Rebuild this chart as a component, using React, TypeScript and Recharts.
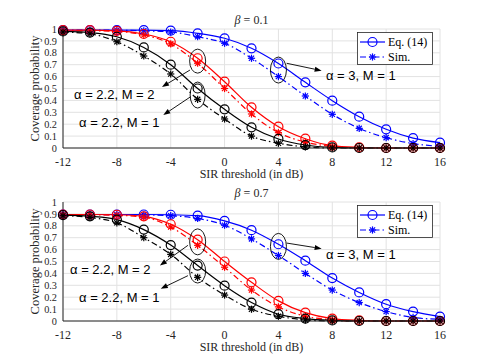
import React from "react";
import {
  LineChart,
  Line,
  XAxis,
  YAxis,
  CartesianGrid,
  Legend,
  ReferenceDot,
  ReferenceLine,
} from "recharts";

// SIR threshold (dB) for every marker
const SIR_DB = [-12, -10, -8, -6, -4, -2, 0, 2, 4, 6, 8, 10, 12, 14, 16];

// beta = 0.1
const EQ_A3_M1_B01 = [0.99, 0.99, 0.99, 0.99, 0.986, 0.964, 0.922, 0.838, 0.71, 0.552, 0.398, 0.263, 0.157, 0.083, 0.045];
const SIM_A3_M1_B01 = [0.99, 0.99, 0.99, 0.985, 0.975, 0.935, 0.88, 0.754, 0.6, 0.437, 0.283, 0.165, 0.087, 0.037, 0.014];
const EQ_A22_M2_B01 = [0.99, 0.99, 0.985, 0.958, 0.893, 0.754, 0.557, 0.342, 0.179, 0.078, 0.02, 0.005, 0, 0, 0];
const SIM_A22_M2_B01 = [0.985, 0.985, 0.98, 0.95, 0.875, 0.712, 0.5, 0.286, 0.129, 0.05, 0.012, 0, 0, 0, 0];
const EQ_A22_M1_B01 = [0.98, 0.97, 0.935, 0.845, 0.7, 0.5, 0.325, 0.174, 0.076, 0.025, 0.005, 0, 0, 0, 0];
const SIM_A22_M1_B01 = [0.975, 0.96, 0.893, 0.773, 0.622, 0.409, 0.244, 0.1, 0.04, 0.01, 0, 0, 0, 0, 0];

// beta = 0.7
const EQ_A3_M1_B07 = [0.895, 0.895, 0.895, 0.895, 0.893, 0.885, 0.841, 0.763, 0.645, 0.507, 0.361, 0.24, 0.141, 0.079, 0.037];
const SIM_A3_M1_B07 = [0.895, 0.895, 0.894, 0.892, 0.885, 0.862, 0.805, 0.69, 0.55, 0.4, 0.26, 0.155, 0.079, 0.03, 0.014];
const EQ_A22_M2_B07 = [0.895, 0.895, 0.893, 0.88, 0.813, 0.683, 0.5, 0.325, 0.169, 0.07, 0.02, 0.005, 0, 0, 0];
const SIM_A22_M2_B07 = [0.892, 0.892, 0.888, 0.872, 0.79, 0.636, 0.452, 0.26, 0.119, 0.04, 0.01, 0, 0, 0, 0];
const EQ_A22_M1_B07 = [0.89, 0.88, 0.852, 0.768, 0.638, 0.466, 0.297, 0.155, 0.057, 0.02, 0.005, 0, 0, 0, 0];
const SIM_A22_M1_B07 = [0.885, 0.87, 0.825, 0.7, 0.56, 0.367, 0.218, 0.099, 0.04, 0.01, 0, 0, 0, 0, 0];

const X_TICKS = [-12, -8, -4, 0, 4, 8, 12, 16];
const Y_TICKS = [0, 0.1, 0.2, 0.3, 0.4, 0.5, 0.6, 0.7, 0.8, 0.9, 1];

const LEGEND_ITEMS = [
  { label: "Eq. (14)", kind: "eq" },
  { label: "Sim.", kind: "sim" },
];

const AXIS = "#262626";
const GRID = "#e2e2e2";
const SERIF = "'Liberation Serif', 'Times New Roman', serif";
const SANS = "'Liberation Sans', Arial, sans-serif";
const DASH_DOT = "6 3 1.5 3";

// plot box inside each 485x182 panel
const M_TOP = 29;
const M_LEFT = 33;
const Y_AXIS_W = 30;
const PLOT_H = 119;

const SERIES = [
  { key: "eqA3", color: "#0000ff", kind: "eq" },
  { key: "simA3", color: "#0000ff", kind: "sim" },
  { key: "eqA22M2", color: "#ff0000", kind: "eq" },
  { key: "simA22M2", color: "#ff0000", kind: "sim" },
  { key: "eqA22M1", color: "#000000", kind: "eq" },
  { key: "simA22M1", color: "#000000", kind: "sim" },
];

function buildRows(cols: number[][]) {
  return SIR_DB.map((x, i) => ({
    x,
    eqA3: cols[0][i],
    simA3: cols[1][i],
    eqA22M2: cols[2][i],
    simA22M2: cols[3][i],
    eqA22M1: cols[4][i],
    simA22M1: cols[5][i],
  }));
}

const PANELS = [
  {
    beta: "0.1",
    rows: buildRows([EQ_A3_M1_B01, SIM_A3_M1_B01, EQ_A22_M2_B01, SIM_A22_M2_B01, EQ_A22_M1_B01, SIM_A22_M1_B01]),
    ellipses: [
      { x: -2, y: 0.73, rx: 8, ry: 12 },
      { x: -2, y: 0.445, rx: 7.5, ry: 13 },
      { x: 4, y: 0.655, rx: 8, ry: 13 },
    ],
    arrows: [
      { x1: -2.57, y1: 0.655, x2: -4.65, y2: 0.513 },
      { x1: -2.52, y1: 0.431, x2: -4.55, y2: 0.277 },
      { x1: 4.61, y1: 0.712, x2: 7.21, y2: 0.65 },
    ],
    notes: [
      { x: -11.18, y: 0.451, text: "α = 2.2, M = 2" },
      { x: -10.81, y: 0.218, text: "α = 2.2, M = 1" },
      { x: 7.53, y: 0.613, text: "α = 3, M = 1" },
    ],
  },
  {
    beta: "0.7",
    rows: buildRows([EQ_A3_M1_B07, SIM_A3_M1_B07, EQ_A22_M2_B07, SIM_A22_M2_B07, EQ_A22_M1_B07, SIM_A22_M1_B07]),
    ellipses: [
      { x: -2, y: 0.665, rx: 8, ry: 13 },
      { x: -2, y: 0.42, rx: 8, ry: 12 },
      { x: 4, y: 0.627, rx: 8, ry: 13 },
    ],
    arrows: [
      { x1: -2.72, y1: 0.636, x2: -4.8, y2: 0.466 },
      { x1: -2.72, y1: 0.381, x2: -4.74, y2: 0.271 },
      { x1: 4.61, y1: 0.655, x2: 7.21, y2: 0.608 },
    ],
    notes: [
      { x: -11.48, y: 0.43, text: "α = 2.2, M = 2" },
      { x: -10.81, y: 0.197, text: "α = 2.2, M = 1" },
      { x: 7.53, y: 0.559, text: "α = 3, M = 1" },
    ],
  },
];

function asterisk(cx: number, cy: number, color: string, key?: any) {
  const s = 3.6;
  const d = 2.6;
  return (
    <g key={key} stroke={color} strokeWidth={1.2} strokeDasharray="none">
      <line x1={cx - s} y1={cy} x2={cx + s} y2={cy} />
      <line x1={cx} y1={cy - s} x2={cx} y2={cy + s} />
      <line x1={cx - d} y1={cy - d} x2={cx + d} y2={cy + d} />
      <line x1={cx - d} y1={cy + d} x2={cx + d} y2={cy - d} />
    </g>
  );
}

function makeStar(color: string) {
  return (props: any) => {
    if (props.cx == null || props.cy == null) return <g key={props.index} />;
    return asterisk(props.cx, props.cy, color, props.index);
  };
}

function arrowShape(p: any) {
  const { x1, y1, x2, y2 } = p;
  if (x1 == null) return <g />;
  const ang = Math.atan2(y2 - y1, x2 - x1);
  const len = 7;
  const hw = 2.6;
  const bx = x2 - len * Math.cos(ang);
  const by = y2 - len * Math.sin(ang);
  const px = -Math.sin(ang) * hw;
  const py = Math.cos(ang) * hw;
  return (
    <g>
      <line x1={x1} y1={y1} x2={bx} y2={by} stroke="#000" strokeWidth={0.9} />
      <polygon points={`${x2},${y2} ${bx + px},${by + py} ${bx - px},${by - py}`} fill="#000" />
    </g>
  );
}

function renderLegend() {
  return (
    <svg width={76} height={33} style={{ display: "block" }}>
      <rect x={0.5} y={0.5} width={75} height={32} fill="#fff" stroke={AXIS} strokeWidth={0.8} />
      {LEGEND_ITEMS.map((item, i) => {
        const y = 10 + i * 15;
        return (
          <g key={item.label}>
            <line
              x1={3}
              y1={y}
              x2={28}
              y2={y}
              stroke="#0000ff"
              strokeWidth={1.2}
              strokeDasharray={item.kind === "sim" ? DASH_DOT : undefined}
            />
            {item.kind === "eq" ? (
              <circle cx={15.5} cy={y} r={4.5} fill="none" stroke="#0000ff" strokeWidth={1.2} />
            ) : (
              asterisk(15.5, y, "#0000ff")
            )}
            <text x={31} y={y + 4} fontFamily={SERIF} fontSize={12} fill="#000">
              {item.label}
            </text>
          </g>
        );
      })}
    </svg>
  );
}

function YLabel() {
  const cx = M_LEFT + 6;
  const cy = M_TOP + PLOT_H / 2;
  return (
    <text
      x={cx}
      y={cy}
      transform={`rotate(-90, ${cx}, ${cy})`}
      textAnchor="middle"
      fontFamily={SERIF}
      fontSize={12.5}
      fill={AXIS}
    >
      Coverage probability
    </text>
  );
}

function Panel({ panel }: { panel: (typeof PANELS)[number] }) {
  const xTickStyle = { fontFamily: SERIF, fontSize: 12, fill: AXIS };
  // 0.1 steps are only ~12px apart, so the y labels are a touch smaller
  const yTickStyle = { fontFamily: SERIF, fontSize: 10.3, fill: AXIS };
  return (
    <LineChart
      width={485}
      height={182}
      data={panel.rows}
      margin={{ top: M_TOP, right: 45, left: M_LEFT, bottom: 0 }}
    >
      <CartesianGrid stroke={GRID} strokeWidth={1} />
      <XAxis
        dataKey="x"
        type="number"
        domain={[-12, 16]}
        ticks={X_TICKS}
        interval={0}
        height={182 - M_TOP - PLOT_H}
        tickSize={0}
        tickMargin={9}
        tick={xTickStyle}
        axisLine={{ stroke: AXIS }}
        label={{
          value: "SIR threshold (in dB)",
          position: "insideBottom",
          offset: 4,
          style: { fontFamily: SERIF, fontSize: 12, fill: AXIS },
        }}
      />
      <XAxis
        xAxisId="top"
        orientation="top"
        type="number"
        domain={[-12, 16]}
        height={0}
        tick={false}
        tickLine={false}
        axisLine={{ stroke: AXIS }}
      />
      <YAxis
        type="number"
        domain={[0, 1]}
        ticks={Y_TICKS}
        interval={0}
        width={Y_AXIS_W}
        tickSize={0}
        tickMargin={6}
        tick={yTickStyle}
        axisLine={{ stroke: AXIS }}
        label={{ content: () => <YLabel /> }}
      />
      <YAxis
        yAxisId="right"
        orientation="right"
        type="number"
        domain={[0, 1]}
        width={0}
        tick={false}
        tickLine={false}
        axisLine={{ stroke: AXIS }}
      />
      {SERIES.map((s) => (
        <Line
          key={s.key}
          dataKey={s.key}
          type="monotone"
          stroke={s.color}
          strokeWidth={1.2}
          strokeDasharray={s.kind === "sim" ? DASH_DOT : undefined}
          dot={
            s.kind === "eq"
              ? { r: 4.5, fill: "none", stroke: s.color, strokeWidth: 1.2 }
              : makeStar(s.color)
          }
          activeDot={false}
          isAnimationActive={false}
        />
      ))}
      {panel.ellipses.map((e, i) => (
        <ReferenceDot
          key={`el${i}`}
          x={e.x}
          y={e.y}
          r={1}
          shape={(p: any) => (
            <ellipse cx={p.cx} cy={p.cy} rx={e.rx} ry={e.ry} fill="none" stroke="#000" strokeWidth={0.9} />
          )}
        />
      ))}
      {panel.arrows.map((a, i) => (
        <ReferenceLine
          key={`ar${i}`}
          segment={[
            { x: a.x1, y: a.y1 },
            { x: a.x2, y: a.y2 },
          ]}
          shape={arrowShape}
        />
      ))}
      {panel.notes.map((n, i) => (
        <ReferenceDot
          key={`nt${i}`}
          x={n.x}
          y={n.y}
          r={1}
          shape={(p: any) => (
            <text x={p.cx} y={p.cy} dy={4.5} fontFamily={SANS} fontSize={13} fill="#000">
              {n.text}
            </text>
          )}
        />
      ))}
      {/* panel title, centred over the plot */}
      <ReferenceDot
        x={2}
        y={1}
        r={1}
        ifOverflow="visible"
        shape={(p: any) => (
          <text x={p.cx} y={p.cy - 5} textAnchor="middle" fontFamily={SERIF} fontSize={12} fill={AXIS}>
            <tspan fontStyle="italic">β</tspan> = {panel.beta}
          </text>
        )}
      />
      <Legend
        layout="vertical"
        align="center"
        verticalAlign="middle"
        content={renderLegend}
        wrapperStyle={{ position: "absolute", left: 357, top: 32, width: 76, height: 33 }}
      />
    </LineChart>
  );
}

export default function App() {
  return (
    <div style={{ position: "absolute", left: 0, top: 0, width: 485, height: 363, background: "#fff" }}>
      {PANELS.map((panel, i) => (
        <div key={panel.beta} style={{ position: "absolute", left: 0, top: i * 173 }}>
          <Panel panel={panel} />
        </div>
      ))}
    </div>
  );
}
